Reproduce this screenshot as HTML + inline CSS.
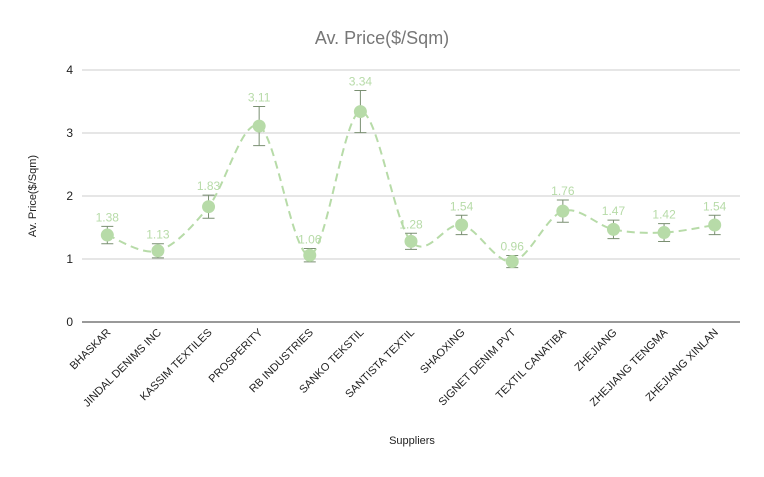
<!DOCTYPE html>
<html><head><meta charset="utf-8"><style>
body{margin:0;background:#fff;font-family:"Liberation Sans",sans-serif}
</style></head><body>
<svg id="c" width="764" height="472" xmlns="http://www.w3.org/2000/svg">
<text x="382" y="44" text-anchor="middle" font-size="18" fill="#777">Av. Price($/Sqm)</text>
<text x="36" y="196" text-anchor="middle" font-size="11" fill="#222" transform="rotate(-90 36 196)">Av. Price($/Sqm)</text>
<text x="412" y="444" text-anchor="middle" font-size="11" fill="#222">Suppliers</text>
<g id="g"></g>
</svg>
<script>
const categories=["BHASKAR","JINDAL DENIMS INC","KASSIM TEXTILES","PROSPERITY","RB INDUSTRIES","SANKO TEKSTIL","SANTISTA TEXTIL","SHAOXING","SIGNET DENIM PVT","TEXTIL CANATIBA","ZHEJIANG","ZHEJIANG TENGMA","ZHEJIANG XINLAN"];
const values=[1.38,1.13,1.83,3.11,1.06,3.34,1.28,1.54,0.96,1.76,1.47,1.42,1.54];
const errorPct=[0.1,0.1,0.1,0.1,0.1,0.1,0.1,0.1,0.1,0.1,0.1,0.1,0.1];
const yTicks=[0,1,2,3,4];
const ns="http://www.w3.org/2000/svg",g=document.getElementById('g');
const x0=82,x1=740,y0=322,y1=70,yMax=4;
const step=(x1-x0)/categories.length;
const X=i=>x0+step*(i+0.5), Y=v=>y0-(v/yMax)*(y0-y1);
function mk(t,a,p){const e=document.createElementNS(ns,t);for(const k in a)e.setAttribute(k,a[k]);(p||g).appendChild(e);return e;}
yTicks.forEach(t=>{
const l=mk('line',{x1:x0,x2:x1,y1:Y(t),y2:Y(t),stroke:t===0?'#333':'#ccc','stroke-width':1});


const tx=mk('text',{x:x0-9,y:Y(t)+4,'text-anchor':'end','font-size':12,fill:'#222'});tx.textContent=t;


});
categories.forEach((c,i)=>{
const t=mk('text',{x:X(i)+4,y:y0+11,'text-anchor':'end','font-size':11,fill:'#222',transform:`rotate(-45 ${X(i)+4} ${y0+11})`});t.textContent=c;


});
const pts=values.map((v,i)=>[X(i),Y(v)]);
let d=`M${pts[0][0]},${pts[0][1]}`;
for(let i=0;i<pts.length-1;i++){const p0=pts[Math.max(0,i-1)],p1=pts[i],p2=pts[i+1],p3=pts[Math.min(pts.length-1,i+2)];
d+=` C${p1[0]+(p2[0]-p0[0])/6},${p1[1]+(p2[1]-p0[1])/6} ${p2[0]-(p3[0]-p1[0])/6},${p2[1]-(p3[1]-p1[1])/6} ${p2[0]},${p2[1]}`;}
const line=mk('path',{d,fill:'none',stroke:'#b7dba8','stroke-width':2,'stroke-dasharray':'8 5'});


values.forEach((v,i)=>{
const e=v*errorPct[i],x=X(i);
const eb=mk('path',{d:`M${x},${Y(v+e)}V${Y(v-e)}M${x-6},${Y(v+e)}H${x+6}M${x-6},${Y(v-e)}H${x+6}`,stroke:'#7a8f72','stroke-width':1,fill:'none'});


const c=mk('circle',{cx:x,cy:Y(v),r:6.5,fill:'#b7dba8'});


const t=mk('text',{x:x,y:Y(v+e)-5,'text-anchor':'middle','font-size':12,fill:'#b7dba8'});t.textContent=v.toFixed(2);


});
</script>
</body></html>
